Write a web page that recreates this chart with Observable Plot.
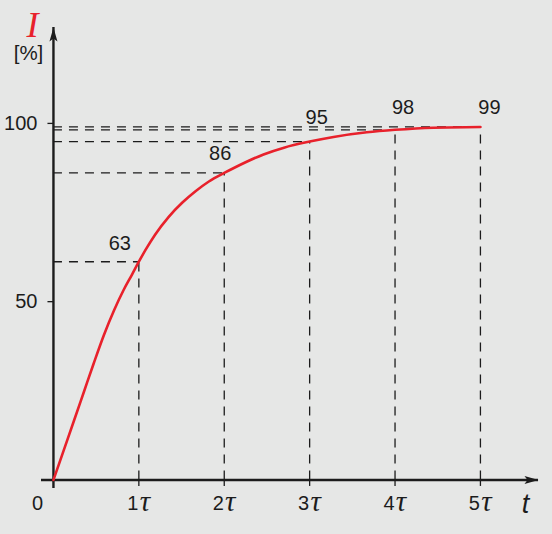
<!DOCTYPE html>
<html><head><meta charset="utf-8">
<script src="https://cdn.jsdelivr.net/npm/d3@7"></script>
<script src="https://cdn.jsdelivr.net/npm/@observablehq/plot@0.6"></script>
<style>
html,body{margin:0;padding:0;background:#e6e7e6;}
#chart{width:552px;height:534px;}
</style></head><body><div id="chart"></div>
<script>
// Charging curve I(t), t in units of tau, I in %
const curveT = [0, 0.12, 0.24, 0.355, 0.47, 0.59, 0.71, 0.82, 0.92, 1.0, 1.08, 1.19, 1.35, 1.51, 1.66, 1.82, 2.0, 2.13, 2.46, 2.70, 3.0, 3.28, 3.67, 4.0, 4.45, 5.0];
const curveI = [0, 8.3, 16.6, 24.6, 32.6, 40.6, 47.6, 53.2, 57.6, 61.2, 64.6, 68.8, 73.8, 77.8, 80.9, 83.7, 86.1, 87.7, 91.3, 93.2, 94.9, 96.2, 97.5, 98.2, 98.8, 99.0];
const tauTicks = [1, 2, 3, 4, 5];
const tauDigits = ["1", "2", "3", "4", "5"];
const yTicks = [50, 100];
const yTickLabels = ["50", "100"];
const levelLabels = ["63", "86", "95", "98", "99"];

const curve = curveT.map((t, i) => ({t, I: curveI[i]}));
const at = k => curveI[curveT.indexOf(k)];
const guides = tauTicks.map(k => ({k, v: at(k)}));

// annotation nudges (pixels)
const nudgeX = [-19, -4, 7, 8, 9];
const nudgeY = [-18, -19, -24, -22, -19];

const ink = "#1c1c1c";
const red = "#e8212b";
const font = "Liberation Sans, Arial, Helvetica, sans-serif";

const arrowHead = {draw(ctx) { ctx.moveTo(0, 0); ctx.lineTo(4, 14); ctx.lineTo(0, 11); ctx.lineTo(-4, 14); ctx.closePath(); }};
const tickSym = {draw(ctx) { ctx.moveTo(0, 0); ctx.lineTo(0, 6); }};

const plot = Plot.plot({
  width: 552, height: 534,
  marginLeft: 41, marginRight: 14, marginTop: 27, marginBottom: 46,
  x: {domain: [-0.14, 5.68], axis: null},
  y: {domain: [-2.4, 126.9], axis: null},
  style: {background: "#e6e7e6", fontFamily: font, color: ink},
  marks: [
    // dashed guides
    Plot.ruleY(guides, {y: "v", x1: 0, x2: "k", stroke: ink, strokeWidth: 1.3, strokeDasharray: "9,7"}),
    Plot.ruleX(guides, {x: "k", y1: 0, y2: "v", stroke: ink, strokeWidth: 1.3, strokeDasharray: "9,7"}),
    // axes
    Plot.ruleY([0], {stroke: ink, strokeWidth: 2.4}),
    Plot.ruleX([0], {stroke: ink, strokeWidth: 2.4}),
    Plot.dot([0], {x: d => d, frameAnchor: "top", symbol: arrowHead, fill: ink, stroke: "none", r: 4}),
    Plot.dot([0], {y: d => d, frameAnchor: "right", symbol: arrowHead, rotate: 90, fill: ink, stroke: "none", r: 4}),
    Plot.dot(tauTicks, {x: d => d, y: 0, symbol: tickSym, stroke: ink, strokeWidth: 1.3, fill: "none", r: 4}),
    Plot.dot(yTicks, {x: 0, y: d => d, symbol: tickSym, rotate: 90, stroke: ink, strokeWidth: 1.3, fill: "none", r: 4}),
    // curve
    Plot.line(curve, {x: "t", y: "I", curve: "monotone-x", stroke: red, strokeWidth: 2.6}),
    // tick labels
    Plot.text(yTicks, {x: 0, y: d => d, text: (d, i) => yTickLabels[i], textAnchor: "end", dx: -16, fontSize: 20, fill: ink}),
    Plot.text(["0"], {x: 0, y: 0, text: d => d, dx: -16, dy: 24, fontSize: 20, fill: ink}),
    Plot.text(tauTicks, {x: d => d, y: 0, text: (d, i) => tauDigits[i], dx: -6, dy: 24, fontSize: 20, fill: ink}),
    Plot.text(tauTicks, {x: d => d, y: 0, text: () => "τ", dx: 6, dy: 22, fontSize: 29, fontStyle: "italic", fontFamily: "Liberation Serif, serif", fill: ink}),
    // level labels
    ...levelLabels.map((s, i) => Plot.text([s], {x: tauTicks[i], y: at(tauTicks[i]), text: d => d, dx: nudgeX[i], dy: nudgeY[i], fontSize: 20, fill: ink})),
    // axis titles
    Plot.text(["I"], {frameAnchor: "top-left", textAnchor: "middle", lineAnchor: "middle", text: d => d, dx: -9, dy: -2, fontSize: 36, fontStyle: "italic", fontFamily: "Liberation Serif, serif", fill: red}),
    Plot.text(["[%]"], {frameAnchor: "top-left", textAnchor: "middle", lineAnchor: "middle", text: d => d, dx: -13, dy: 26, fontSize: 20.5, fill: ink}),
    Plot.text(["t"], {frameAnchor: "bottom-right", textAnchor: "middle", lineAnchor: "middle", text: d => d, dx: -13, dy: 16, fontSize: 27, fontStyle: "italic", fill: ink})
  ]
});
document.getElementById("chart").append(plot);
</script></body></html>
